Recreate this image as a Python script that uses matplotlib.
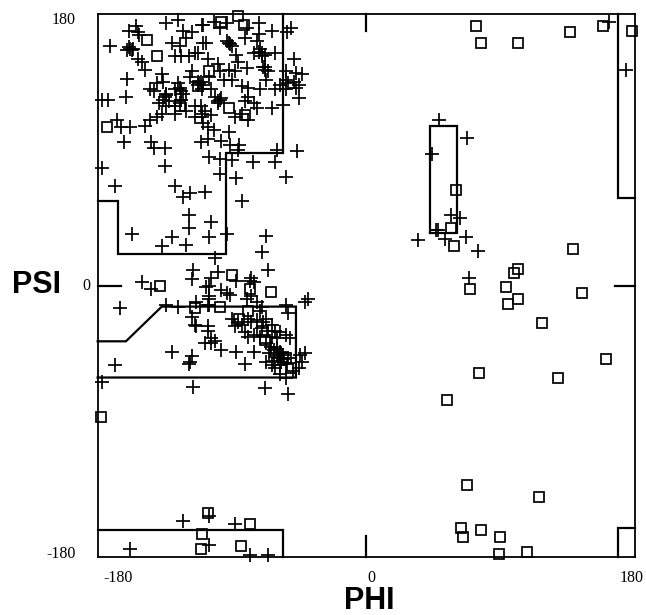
import matplotlib
matplotlib.use("Agg")
import matplotlib.pyplot as plt
from matplotlib.transforms import blended_transform_factory

# ---------------- data (phi, psi in degrees) ----------------
cross_phi_psi = [
    # beta region, upper-left
    (-172,159),(-159,169),(-154,172),(-153,168),(-152,166),(-158,157),(-159,158),(-156,157),
    (-150,148),(-153,150),(-148,143),(-160,137),(-161,125),(-177,123),(-173,123),(-145,130),
    (-140,134),(-142,129),(-137,140),(-136,135),(-139,121),(-136,123),(-134,126),(-134,119),
    (-132,122),(-128,130),(-128,119),(-126,134),(-123,127),(-124,123),(-125,121),(-134,174),
    (-126,176),(-123,169),(-117,168),(-121,164),(-130,161),(-125,159),(-128,152),(-124,152),
    (-119,152),(-115,154),(-110,173),(-109,161),(-117,142),(-118,138),(-113,135),(-110,130),
    (-128,114),(-121,116),(-115,119),(-115,112),(-110,114),(-167,110),(-164,105),(-158,105),
    (-148,106),(-145,110),(-140,112),(-137,114),
    # beta region, upper-right part
    (-109,173),(-102,175),(-98,171),(-93,174),(-80,171),(-72,174),(-72,167),(-63,169),
    (-53,168),(-50,171),(-107,161),(-92,161),(-90,159),(-81,164),(-73,162),(-71,157),
    (-75,154),(-70,154),(-68,153),(-61,154),(-113,154),(-106,150),(-99,147),(-87,153),
    (-86,148),(-69,145),(-68,143),(-80,144),(-88,142),(-48,150),(-54,142),(-47,141),
    (-43,140),(-111,135),(-113,133),(-109,133),(-105,138),(-98,142),(-92,143),(-95,136),
    (-90,136),(-83,132),(-79,131),(-71,130),(-67,136),(-61,130),(-58,133),(-54,130),
    (-54,136),(-52,134),(-47,131),(-45,133),(-48,135),(-104,130),(-101,125),(-98,123),
    (-99,121),(-79,125),(-81,122),(-75,121),(-73,118),(-63,118),(-56,120),(-45,124),
    (-111,119),(-108,116),(-110,112),(-104,113),(-109,108),(-88,112),(-83,114),(-79,110),
    (-106,105),(-102,103),(-92,102),
    (-157,156),(-160,156),(-91,160),(-93,162),(-70,152),(-72,155),(-68,145),(-66,142),
    (-134,127),(-135,125),(-99,122),(-97,124),(-112,134),(-124,129),(-125,131),
    # beta region, lower part
    (-162,95),(-144,95),(-142,91),(-135,91),(-111,95),(-106,97),(-97,96),(-91,93),
    (-85,93),(-86,90),(-105,85),(-98,84),(-90,83),(-76,82),(-60,90),(-61,82),(-46,89),
    (-177,78),(-135,79),(-98,74),(-87,71),(-54,72),(-168,66),(-128,66),(-123,59),
    (-118,61),(-108,62),(-83,56),(-119,47),(-104,42),(-119,38),(-157,34),(-130,32),
    (-105,32),(-93,34),(-67,33),(-137,26),(-121,27),(-70,22),(-101,18),
    # alpha region
    (-150,2),(-144,-2),(-165,-15),(-134,-13),(-126,-14),(-116,10),(-117,4),(-117,-21),
    (-115,-26),(-114,-27),(-114,-11),(-105,-7),(-105,-13),(-106,-27),(-108,-38),(-104,-38),
    (-130,-44),(-117,-47),(-118,-51),(-119,-52),(-168,-53),
    (-99,9),(-104,5),(-105,0),(-107,-1),(-87,3),(-97,-3),(-93,-5),(-91,-6),
    (-77,5),(-75,2),(-78,3),(-66,10),(-80,-9),(-77,-7),(-73,-11),(-39,-9),(-41,-11),
    (-105,-9),(-106,-13),(-54,-13),(-52,-18),(-70,-14),(-71,-17),(-90,-22),(-86,-24),
    (-88,-27),(-83,-26),(-79,-22),(-77,-24),(-73,-23),(-69,-24),(-67,-22),(-63,-26),
    (-61,-30),(-58,-31),(-81,-31),(-79,-34),(-75,-33),(-71,-34),(-63,-34),(-60,-35),
    (-54,-33),(-51,-35),(-106,-30),(-104,-35),(-101,-37),(-97,-43),(-87,-44),(-75,-44),
    (-81,-52),(-67,-38),(-64,-41),(-62,-43),(-60,-42),(-58,-44),(-56,-46),(-59,-48),
    (-67,-51),(-63,-53),(-61,-55),(-57,-51),(-52,-48),(-44,-46),(-41,-45),(-43,-51),
    (-45,-55),(-49,-57),(-58,-59),(-54,-61),
    (-57,-45),(-55,-49),(-60,-46),(-62,-50),(-65,-45),(-53,-52),(-58,-53),(-66,-30),(-70,-28),
    # lower left
    (-177,-64),(-116,-67),(-68,-68),(-52,-72),(-105,-153),(-123,-156),(-88,-158),
    (-105,-172),(-158,-175),(-78,-179),(-66,-179),
    # right half
    (49,110),(68,98),(44,87),(57,47),(63,45),(47,37),(48,37),(35,30),(53,31),(67,32),
    (75,23),(69,5),(174,143),(163,175),
]

square_phi_psi = [
    # beta region
    (-147,163),(-140,152),(-174,105),(-124,126),(-125,119),(-86,179),(-82,173),
    (-105,142),(-92,118),(-81,113),(-97,175),(-113,132),
    # alpha region
    (-138,0),(-115,-15),(-90,7),(-78,-2),(-64,-4),(-98,-14),(-79,-17),(-68,-36),
    (-61,-44),(-54,-48),(-50,-55),(-70,-30),(-85,-22),
    # left edge / bottom left
    (-178,-87),(-106,-151),(-78,-158),(-110,-165),(-111,-175),(-84,-173),
    # right half
    (74,172),(77,161),(102,161),(137,168),(159,172),(178,169),(60,63),(57,38),(59,26),
    (139,24),(102,11),(99,8),(70,-2),(94,-1),(102,-9),(95,-12),(145,-5),(118,-25),
    (161,-49),(76,-58),(129,-61),(54,-76),(68,-132),(116,-140),(64,-161),(65,-167),
    (77,-162),(90,-167),(89,-178),(108,-177),
]

# allowed-region outlines (phi, psi)
region_beta = [(-56,180),(-56,88),(-94,88),(-94,21),(-166,21),(-166,56),(-180,56)]
region_alpha = [(-180,-37),(-161,-37),(-137,-14),(-47,-14),(-47,-61),(-180,-61)]
region_bottom_left = [(-180,-162),(-56,-162),(-56,-180)]
region_left_alpha = [(43,35),(43,106),(61,106),(61,35),(43,35)]
region_right_top = [(180,58),(169,58),(169,180)]
region_right_bottom = [(180,-161),(169,-161),(169,-180)]
axis_marks = [[(0,180),(0,169)], [(0,-180),(0,-166)], [(-180,0),(-164,0)], [(180,0),(167,0)]]

x_ticks = [-180, 0, 180]
x_tick_labels = ["-180", "0", "180"]
y_ticks = [180, 0, -180]
y_tick_labels = ["180", "0", "-180"]

# ---------------- figure ----------------
fig = plt.figure(figsize=(6.46, 6.15), dpi=100)
ax = fig.add_axes([97.6/646, 58/615, 536.9/646, 543/615])
ax.set_xlim(-180, 180)
ax.set_ylim(-180, 180)
ax.set_xticks([])
ax.set_yticks([])
for s in ax.spines.values():
    s.set_linewidth(1.3)
    s.set_color("black")

for reg in [region_beta, region_alpha, region_bottom_left, region_left_alpha,
            region_right_top, region_right_bottom] + axis_marks:
    xs = [p[0] for p in reg]
    ys = [p[1] for p in reg]
    ax.plot(xs, ys, color="black", lw=1.6, solid_joinstyle="miter", clip_on=False)

cx = [p[0] for p in cross_phi_psi]
cy = [p[1] for p in cross_phi_psi]
ax.plot(cx, cy, linestyle="none", marker="+", markersize=10, markeredgewidth=1.25,
        color="black", clip_on=False)

sx = [p[0] for p in square_phi_psi]
sy = [p[1] for p in square_phi_psi]
ax.plot(sx, sy, linestyle="none", marker="s", markersize=7.3, markeredgewidth=1.25,
        markerfacecolor="none", markeredgecolor="black", clip_on=False)

num_font = dict(family="Liberation Serif", fontsize=11.5, color="black")
tx = blended_transform_factory(ax.transData, ax.transAxes)
ty = blended_transform_factory(ax.transAxes, ax.transData)
x_offsets = [15, 4, -2]
for v, lab, off in zip(x_ticks, x_tick_labels, x_offsets):
    ax.annotate(lab, xy=(v, 0), xycoords=tx, xytext=(off, -15), textcoords="offset points",
                ha="center", va="center", **num_font)
y_offsets = [(-16, -4), (-5, 0), (-16, 2)]
for v, lab, off in zip(y_ticks, y_tick_labels, y_offsets):
    ax.annotate(lab, xy=(0, v), xycoords=ty, xytext=off, textcoords="offset points",
                ha="right", va="center", **num_font)

fig.text(36/646, 1-285/615, "PSI", family="Liberation Sans", fontweight="bold",
         fontsize=22, ha="center", va="center")
fig.text(369/646, 1-601/615, "PHI", family="Liberation Sans", fontweight="bold",
         fontsize=22, ha="center", va="center")

fig.savefig("out.png", dpi=100, facecolor="white")
